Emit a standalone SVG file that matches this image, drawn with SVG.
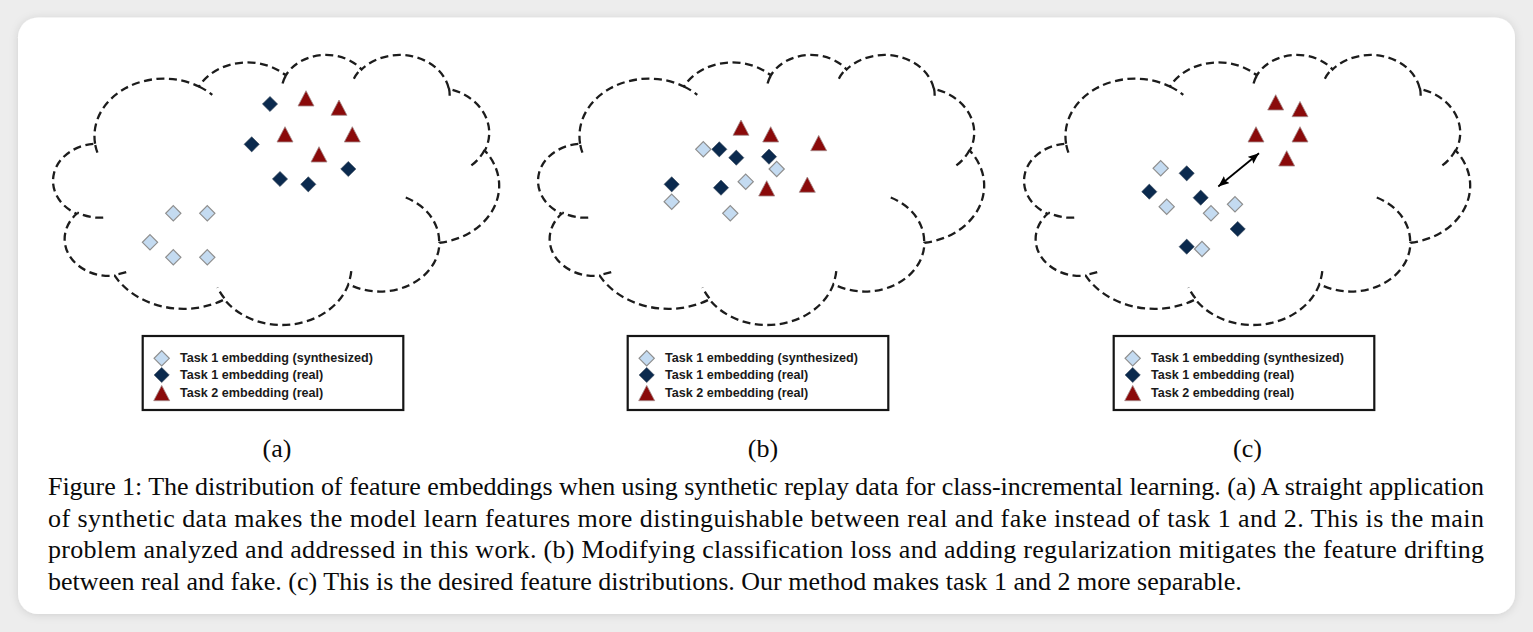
<svg xmlns="http://www.w3.org/2000/svg" xmlns:xlink="http://www.w3.org/1999/xlink" width="1533" height="632" viewBox="0 0 1533 632">
<style>
.cl{fill:#fff;stroke:#1c1c1c;stroke-width:2.3;stroke-dasharray:8 4.5}
.tk{fill:none;stroke:#1c1c1c;stroke-width:2.3;stroke-dasharray:8 4.5}
.ld{fill:#c4dbf1;stroke:#8e8e8e;stroke-width:1.2}
.dd{fill:#0b2a4e;stroke:#3a4a5c;stroke-width:0.6}
.tr{fill:#8a0a0a;stroke:#a48c8c;stroke-width:0.8}
.lg{fill:#fff;stroke:#151515;stroke-width:2.2}
.lt{font-family:"Liberation Sans",Arial,sans-serif;font-weight:bold;font-size:12.6px;fill:#1a1a1a}
.cap{font-family:"Liberation Serif","Times New Roman",serif;font-size:26px;fill:#0a0a0a}
</style>
<defs>
<filter id="sh" x="-5%" y="-5%" width="110%" height="110%">
<feDropShadow dx="0" dy="1" stdDeviation="4" flood-color="#000" flood-opacity="0.13"/>
</filter>
<g id="cloud">
<path class="cl" d="M40.08,89.81 A69.41,57.44 0 0 1 143.93,32.51 A54.81,45.42 0 0 1 230.79,21.46 A44.86,37.16 0 0 1 306.61,15.51 A49.92,41.22 0 0 1 393.82,34.85 A54.81,45.46 0 0 1 429.79,96.63 A69.63,57.63 0 0 1 384.42,188.76 A59.46,49.17 0 0 1 293.48,230.08 A69.40,57.59 0 0 1 169.38,245.42 A79.34,65.89 0 0 1 59.66,221.71 A44.81,36.99 0 0 1 21.71,159.71 A44.66,37.16 0 0 1 40.08,89.81 Z"/>
<path class="tk" d="M48.23,163.61 A44.66,37.16 0 0 1 22.20,158.62 M71.21,218.12 A44.81,36.99 0 0 1 59.81,220.50 M169.36,244.31 A69.40,57.59 0 0 1 162.48,233.42 M296.28,217.19 A69.40,57.59 0 0 1 293.54,229.12 M350.77,143.46 A59.46,49.17 0 0 1 384.19,188.06 M429.59,95.96 A54.81,45.46 0 0 1 414.70,112.69 M393.89,33.91 A49.92,41.22 0 0 1 394.67,41.80 M298.86,24.70 A49.92,41.22 0 0 1 306.48,14.62 M227.56,29.50 A44.86,37.16 0 0 1 231.25,20.81 M143.89,32.45 A69.41,57.44 0 0 1 157.27,40.90 M42.42,98.68 A69.41,57.44 0 0 1 40.08,89.81"/>
</g>
<path id="ldm" class="ld" d="M0,-7.6 L7.6,0 L0,7.6 L-7.6,0 Z"/>
<path id="ddm" class="dd" d="M0,-7.6 L7.6,0 L0,7.6 L-7.6,0 Z"/>
<path id="trm" class="tr" d="M0,-15.3 L8,0 L-8,0 Z"/>
<marker id="ah" viewBox="0 0 11 9" refX="11" refY="4.5" markerWidth="11" markerHeight="9" markerUnits="userSpaceOnUse" orient="auto-start-reverse">
<path d="M0,0 L11,4.5 L0,9 L2,4.5 Z" fill="#000"/>
</marker>
</defs>
<rect x="0" y="0" width="1533" height="632" fill="#ededed"/>
<rect x="18" y="17.5" width="1497" height="596.5" rx="20" fill="#fff" filter="url(#sh)"/>

<g id="panel-a">
<use xlink:href="#cloud" x="55" y="54"/>
<use xlink:href="#ddm" x="270" y="104"/>
<use xlink:href="#ddm" x="251.7" y="144.3"/>
<use xlink:href="#ddm" x="280" y="179"/>
<use xlink:href="#ddm" x="308.3" y="184.3"/>
<use xlink:href="#ddm" x="348.3" y="169"/>
<use xlink:href="#ldm" x="173.3" y="213.3"/>
<use xlink:href="#ldm" x="207.3" y="213.3"/>
<use xlink:href="#ldm" x="150" y="242.3"/>
<use xlink:href="#ldm" x="173.3" y="257.3"/>
<use xlink:href="#ldm" x="207.3" y="257.3"/>
<use xlink:href="#trm" x="306" y="106"/>
<use xlink:href="#trm" x="339" y="115.3"/>
<use xlink:href="#trm" x="285" y="142"/>
<use xlink:href="#trm" x="352.3" y="142"/>
<use xlink:href="#trm" x="319" y="162"/>
<g id="legend-a">
<rect class="lg" x="142.7" y="336" width="260.6" height="74"/>
<use xlink:href="#ldm" x="161.7" y="358.3"/>
<use xlink:href="#ddm" x="161.7" y="375"/>
<use xlink:href="#trm" x="161.7" y="400.7"/>
<text class="lt" x="180" y="362.3">Task 1 embedding (synthesized)</text>
<text class="lt" x="180" y="379.3">Task 1 embedding (real)</text>
<text class="lt" x="180" y="396.7">Task 2 embedding (real)</text>
</g>
</g>

<g id="panel-b">
<use xlink:href="#cloud" x="540" y="54"/>
<use xlink:href="#ddm" x="719.3" y="149.3"/>
<use xlink:href="#ddm" x="736.3" y="157.7"/>
<use xlink:href="#ddm" x="769" y="156.7"/>
<use xlink:href="#ddm" x="671.7" y="184.3"/>
<use xlink:href="#ddm" x="721" y="187.7"/>
<use xlink:href="#ldm" x="703.3" y="149.3"/>
<use xlink:href="#ldm" x="776.7" y="169"/>
<use xlink:href="#ldm" x="745.7" y="181.7"/>
<use xlink:href="#ldm" x="671.7" y="201.7"/>
<use xlink:href="#ldm" x="730.3" y="213.3"/>
<use xlink:href="#trm" x="741" y="135.3"/>
<use xlink:href="#trm" x="770.7" y="142"/>
<use xlink:href="#trm" x="818.7" y="150.7"/>
<use xlink:href="#trm" x="766.7" y="196"/>
<use xlink:href="#trm" x="807.3" y="192.3"/>
<g id="legend-b">
<rect class="lg" x="627.7" y="336" width="260.6" height="74"/>
<use xlink:href="#ldm" x="646.7" y="358.3"/>
<use xlink:href="#ddm" x="646.7" y="375"/>
<use xlink:href="#trm" x="646.7" y="400.7"/>
<text class="lt" x="665" y="362.3">Task 1 embedding (synthesized)</text>
<text class="lt" x="665" y="379.3">Task 1 embedding (real)</text>
<text class="lt" x="665" y="396.7">Task 2 embedding (real)</text>
</g>
</g>

<g id="panel-c">
<use xlink:href="#cloud" x="1026" y="54"/>
<use xlink:href="#ddm" x="1186.7" y="173.3"/>
<use xlink:href="#ddm" x="1149.3" y="191.7"/>
<use xlink:href="#ddm" x="1200.7" y="197.7"/>
<use xlink:href="#ddm" x="1237.7" y="229"/>
<use xlink:href="#ddm" x="1186.7" y="246.7"/>
<use xlink:href="#ldm" x="1160.7" y="168.3"/>
<use xlink:href="#ldm" x="1166.7" y="206.7"/>
<use xlink:href="#ldm" x="1211" y="213.3"/>
<use xlink:href="#ldm" x="1235" y="204.3"/>
<use xlink:href="#ldm" x="1202" y="249"/>
<use xlink:href="#trm" x="1275.7" y="110"/>
<use xlink:href="#trm" x="1300" y="116.7"/>
<use xlink:href="#trm" x="1256" y="142"/>
<use xlink:href="#trm" x="1300" y="142"/>
<use xlink:href="#trm" x="1286.7" y="166"/>
<g id="connectors">
<line x1="1218.3" y1="186.5" x2="1259" y2="153.3" stroke="#000" stroke-width="1.8" marker-start="url(#ah)" marker-end="url(#ah)"/>
</g>
<g id="legend-c">
<rect class="lg" x="1113.7" y="336" width="260.6" height="74"/>
<use xlink:href="#ldm" x="1132.7" y="358.3"/>
<use xlink:href="#ddm" x="1132.7" y="375"/>
<use xlink:href="#trm" x="1132.7" y="400.7"/>
<text class="lt" x="1151" y="362.3">Task 1 embedding (synthesized)</text>
<text class="lt" x="1151" y="379.3">Task 1 embedding (real)</text>
<text class="lt" x="1151" y="396.7">Task 2 embedding (real)</text>
</g>
</g>

<g id="caption">
<text class="cap" x="277" y="457" text-anchor="middle">(a)</text>
<text class="cap" x="763" y="457" text-anchor="middle">(b)</text>
<text class="cap" x="1247.5" y="457" text-anchor="middle">(c)</text>
<text class="cap" x="48" y="495" textLength="1436" lengthAdjust="spacing">Figure 1: The distribution of feature embeddings when using synthetic replay data for class-incremental learning. (a) A straight application</text>
<text class="cap" x="48" y="526.5" textLength="1436" lengthAdjust="spacing">of synthetic data makes the model learn features more distinguishable between real and fake instead of task 1 and 2. This is the main</text>
<text class="cap" x="48" y="558" textLength="1436" lengthAdjust="spacing">problem analyzed and addressed in this work. (b) Modifying classification loss and adding regularization mitigates the feature drifting</text>
<text class="cap" x="48" y="590">between real and fake. (c) This is the desired feature distributions. Our method makes task 1 and 2 more separable.</text>
</g>
</svg>
